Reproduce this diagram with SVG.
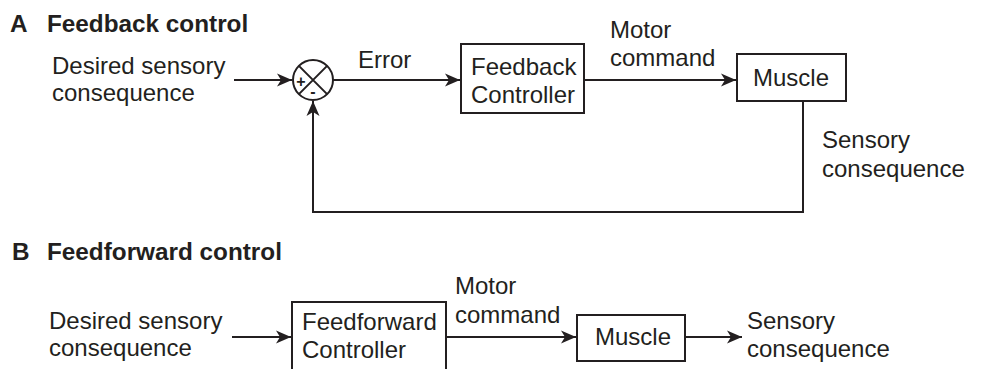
<svg xmlns="http://www.w3.org/2000/svg" width="981" height="369" viewBox="0 0 981 369">
  <style>
    text { font-family: "Liberation Sans", Arial, sans-serif; fill: #231f20; }
    .lbl { font-size: 24px; }
    .title { font-size: 24.3px; font-weight: bold; }
    .sign { font-size: 16px; font-weight: bold; text-anchor: middle; }
    .box { fill: #ffffff; stroke: #231f20; stroke-width: 2; }
    .wire { fill: none; stroke: #231f20; stroke-width: 2; }
  </style>
  <defs>
    <marker id="arrow" markerUnits="userSpaceOnUse" markerWidth="18" markerHeight="14" viewBox="-16 -7 18 14" refX="0" refY="0" orient="auto">
      <path d="M0,0 L-15,-6.5 L-11,0 L-15,6.5 Z" fill="#231f20"/>
    </marker>
  </defs>
  <rect width="981" height="369" fill="#ffffff"/>

  <!-- Panel A: feedback loop -->
  <text class="title" x="10" y="32">A</text>
  <text class="title" x="47" y="32">Feedback control</text>

  <g id="a-input">
    <text class="lbl" x="52" y="74">Desired sensory</text>
    <text class="lbl" x="52" y="101">consequence</text>
  </g>

  <g id="a-sum">
    <circle cx="313" cy="80" r="20" fill="#ffffff" stroke="#231f20" stroke-width="2"/>
    <path class="wire" d="M298.9,65.9 L327.1,94.1 M327.1,65.9 L298.9,94.1"/>
    <text class="sign" x="301" y="86.5">+</text>
    <text class="sign" x="313" y="97">-</text>
  </g>

  <g id="a-controller">
    <rect class="box" x="461" y="44" width="123" height="69"/>
    <text class="lbl" x="471" y="75">Feedback</text>
    <text class="lbl" x="471" y="103">Controller</text>
  </g>

  <g id="a-muscle">
    <rect class="box" x="737" y="54" width="109" height="47"/>
    <text class="lbl" x="753" y="86">Muscle</text>
  </g>

  <g id="a-connectors">
    <line class="wire" x1="234" y1="80" x2="292" y2="80" marker-end="url(#arrow)"/>
    <line class="wire" x1="333" y1="80" x2="460" y2="80" marker-end="url(#arrow)"/>
    <line class="wire" x1="584" y1="80" x2="736" y2="80" marker-end="url(#arrow)"/>
    <polyline class="wire" points="803,101 803,212 313,212 313,101" marker-end="url(#arrow)"/>
    <text class="lbl" x="358" y="68">Error</text>
    <text class="lbl" x="610" y="38">Motor</text>
    <text class="lbl" x="610" y="66">command</text>
    <text class="lbl" x="822" y="148">Sensory</text>
    <text class="lbl" x="822" y="177">consequence</text>
  </g>

  <!-- Panel B: feedforward chain -->
  <text class="title" x="12" y="260">B</text>
  <text class="title" x="47" y="260">Feedforward control</text>

  <g id="b-input">
    <text class="lbl" x="49" y="329">Desired sensory</text>
    <text class="lbl" x="49" y="356">consequence</text>
  </g>

  <g id="b-controller">
    <rect class="box" x="292" y="302" width="154" height="80"/>
    <text class="lbl" x="302" y="330">Feedforward</text>
    <text class="lbl" x="302" y="358">Controller</text>
  </g>

  <g id="b-muscle">
    <rect class="box" x="577" y="315" width="108" height="46"/>
    <text class="lbl" x="595" y="345">Muscle</text>
  </g>

  <g id="b-connectors">
    <line class="wire" x1="232" y1="337" x2="291" y2="337" marker-end="url(#arrow)"/>
    <line class="wire" x1="446" y1="337" x2="576" y2="337" marker-end="url(#arrow)"/>
    <line class="wire" x1="685" y1="337" x2="742" y2="337" marker-end="url(#arrow)"/>
    <text class="lbl" x="455" y="294">Motor</text>
    <text class="lbl" x="455" y="323">command</text>
    <text class="lbl" x="747" y="329">Sensory</text>
    <text class="lbl" x="747" y="357">consequence</text>
  </g>
</svg>
